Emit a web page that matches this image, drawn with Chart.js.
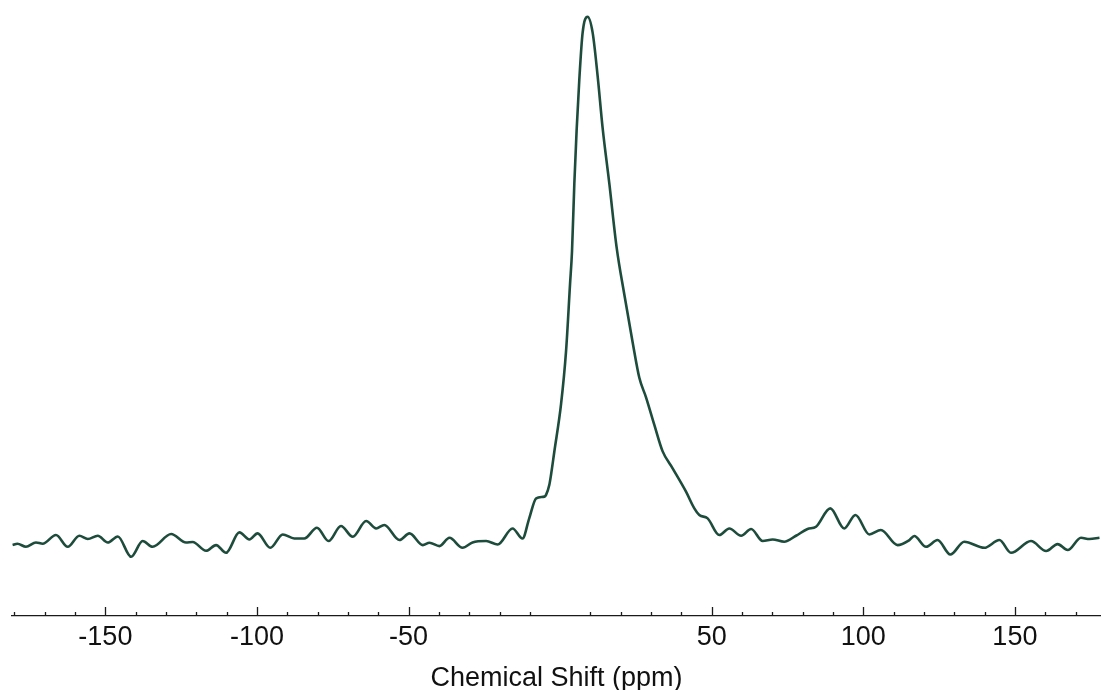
<!DOCTYPE html>
<html>
<head>
<meta charset="utf-8">
<script src="https://cdn.jsdelivr.net/npm/chart.js@4.4.1/dist/chart.umd.min.js"></script>
<style>
  html, body { margin: 0; padding: 0; background: #fff; }
  canvas { display: block; }
</style>
</head>
<body>
<canvas id="nmrChart" width="1101" height="690"></canvas>
<script>
// ── spectrum (ppm, normalised intensity, peak = 100) ──
const shiftPpm = [
  -180.6, -179.0, -176.2, -172.9, -170.7, -166.3, -162.4, -158.6, -155.8, -152.5,
  -149.2, -145.9, -141.5, -137.7, -134.4, -128.3, -123.4, -121.2, -116.8, -113.5,
  -110.2, -105.8, -102.5, -99.8, -95.6, -91.5, -87.7, -84.4, -80.2, -76.4,
  -72.3, -68.4, -64.0, -60.7, -58.0, -53.0, -49.7, -45.3, -43.1, -39.8,
  -36.5, -32.2, -28.9, -24.4, -20.6, -15.7, -12.4, -10.2, -7.9, -5.2,
  -4.65, -3.56, -3.0, -1.91, 0.3, 1.95, 3.27, 3.92, 4.68, 5.44,
  6.33, 7.42, 9.07, 10.72, 12.37, 14.02, 16.23, 18.63, 21.17, 23.91,
  26.12, 28.33, 31.07, 33.81, 37.1, 41.52, 44.26, 45.9, 48.65, 52.5,
  55.8, 59.7, 63.0, 66.8, 70.1, 73.9, 77.8, 81.6, 84.4, 89.1,
  93.7, 97.4, 102.0, 105.8, 111.3, 115.2, 116.8, 120.7, 124.5, 128.7,
  133.3, 139.9, 144.9, 148.7, 155.3, 160.3, 164.1, 167.4, 171.8, 174.6,
  177.9
];
const intensity = [
  0.32, 0.57, 0.0, 0.81, 0.57, 2.21, 0.0, 2.08, 1.46, 2.08,
  0.81, 1.95, -1.89, 1.08, 0.0, 2.40, 0.81, 0.89, -0.76, 0.32,
  -1.14, 2.71, 1.38, 2.52, -0.19, 2.33, 1.57, 1.57, 3.60, 1.08,
  3.92, 1.89, 4.86, 3.46, 4.11, 1.27, 2.52, 0.32, 0.76, 0.13,
  1.70, -0.19, 0.81, 1.08, 0.44, 3.46, 1.57, 5.36, 9.14, 9.46,
  9.79, 11.7, 13.6, 17.98, 26.9, 36.9, 49.6, 55.8, 68.5, 78.6,
  88.2, 97.0, 100.0, 97.0, 88.8, 79.0, 68.5, 56.5, 47.6, 38.6,
  31.9, 28.2, 23.0, 18.0, 14.8, 10.4, 7.25, 6.0, 5.36, 2.21,
  3.46, 2.08, 3.35, 1.08, 1.38, 0.95, 2.08, 3.35, 3.79, 7.25,
  3.46, 6.0, 2.33, 3.16, 0.32, 1.27, 2.03, 0.0, 1.27, -1.46,
  0.95, -0.19, 1.27, -1.14, 1.08, -0.81, 0.51, -0.62, 1.70, 1.46,
  1.70
];

// axis ticks: minor every 10 ppm, labelled every 50 (no tick at 0 in the original)
const tickValues = [
  -180, -170, -160, -150, -140, -130, -120, -110, -100, -90, -80, -70, -60, -50,
  -40, -30, -20, -10, 10, 20, 30, 40, 50, 60, 70, 80, 90, 100, 110, 120, 130,
  140, 150, 160, 170
];
const tickLabels = ['-150', '-100', '-50', '50', '100', '150'];

const LINE_COLOR = '#1d4c3c';
const AXIS_COLOR = '#1a1a1a';
const FONT = "'Liberation Sans', Arial, sans-serif";

// tick marks point up into the plot, so draw them ourselves off the x scale
const upTicksPlugin = {
  id: 'upTicks',
  afterDraw(chart) {
    const scale = chart.scales.x;
    const ctx = chart.ctx;
    ctx.save();
    ctx.strokeStyle = AXIS_COLOR;
    ctx.lineWidth = 1.3;
    tickValues.forEach(v => {
      const px = Math.round(scale.getPixelForValue(v)) + 0.5;
      const len = v % 50 === 0 ? 9 : 4;
      ctx.beginPath();
      ctx.moveTo(px, scale.top);
      ctx.lineTo(px, scale.top - len);
      ctx.stroke();
    });
    ctx.restore();
  }
};

const points = shiftPpm.map((x, i) => ({ x: x, y: intensity[i] }));

new Chart(document.getElementById('nmrChart').getContext('2d'), {
  type: 'line',
  data: {
    datasets: [{
      data: points,
      borderColor: LINE_COLOR,
      borderWidth: 2.6,
      pointRadius: 0,
      fill: false,
      cubicInterpolationMode: 'monotone'
    }]
  },
  options: {
    responsive: false,
    animation: false,
    layout: { padding: { left: 12, right: 0, top: 0, bottom: 0 } },
    plugins: { legend: { display: false }, tooltip: { enabled: false } },
    scales: {
      x: {
        type: 'linear',
        min: -180.8,
        max: 178.4,
        afterBuildTicks: scale => { scale.ticks = tickValues.map(v => ({ value: v })); },
        grid: { display: false, drawTicks: false, tickLength: 0 },
        border: { display: true, color: AXIS_COLOR, width: 1.3 },
        ticks: {
          autoSkip: false,
          maxRotation: 0,
          padding: 8,
          color: '#111',
          font: { family: FONT, size: 27, lineHeight: 1.0 },
          callback: v => (tickLabels.includes(String(v)) ? String(v) : '')
        },
        title: {
          display: true,
          text: 'Chemical Shift (ppm)',
          color: '#111',
          font: { family: FONT, size: 27, lineHeight: 1.0 },
          padding: { top: 6, bottom: -2 }
        }
      },
      y: {
        display: false,
        min: -13.06,
        max: 103.16
      }
    }
  },
  plugins: [upTicksPlugin]
});
</script>
</body>
</html>
